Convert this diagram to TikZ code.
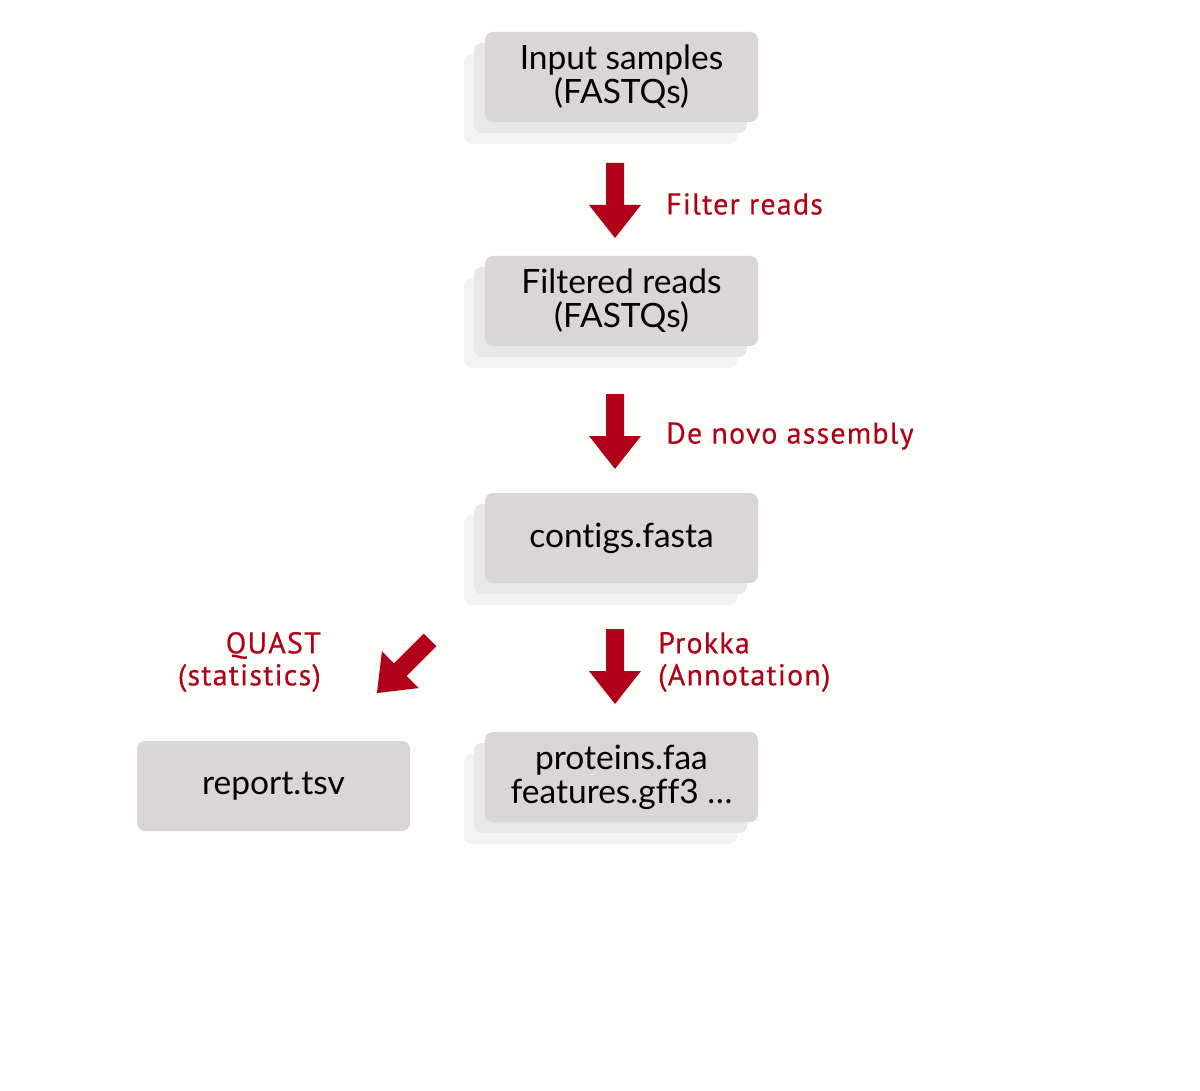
\documentclass[tikz,border=0pt]{standalone}
\usepackage{fontspec}
\setmainfont{Lato}[Ligatures=NoCommon]
\newfontfamily\labelfont{PT Sans}[LetterSpace=4, FakeBold=0.3]
\usetikzlibrary{shadows}
\definecolor{bgcol}{HTML}{FEFEFA}
\definecolor{boxcol}{HTML}{D9D6D4}
\definecolor{shadowone}{HTML}{E9E8E9}
\definecolor{shadowtwo}{HTML}{F4F3F3}
\definecolor{stepred}{HTML}{B0001A}
\tikzset{
  filebox/.style={fill=boxcol, rounded corners=8pt, minimum width=273pt, minimum height=90pt,
    align=center, inner sep=0pt, font=\fontsize{33.5}{34}\selectfont},
  stackbox/.style={filebox,
    copy shadow={shadow xshift=-21pt, shadow yshift=-22pt, fill=shadowtwo, draw=none},
    copy shadow={shadow xshift=-11pt, shadow yshift=-11pt, fill=shadowone, draw=none}},
  steplabel/.style={text=stepred, inner sep=0pt, font=\labelfont\fontsize{30}{32}\selectfont},
  pics/blockarrow/.style={code={
    \fill[stepred] (-9,0) -- (9,0) -- (9,42) -- (26,42) -- (0,75) -- (-26,42) -- (-9,42) -- cycle;}}
}
\begin{document}
\begin{tikzpicture}[x=1pt, y=-1pt]
\useasboundingbox[fill=bgcol] (0,0) rectangle (1200,1091);
% files
\node[stackbox] (input) at (621.5,77) {Input samples\\(FASTQs)};
\node[stackbox] (filtered) at (621.5,301) {Filtered reads\\(FASTQs)};
\node[stackbox] (contigs) at (621.5,538) {contigs.fasta};
\node[stackbox] (annot) at (621.5,777) {proteins.faa\\features.gff3 \dots};
\node[filebox] (report) at (273.5,786) {report.tsv};
% steps
\pic at (615,163) {blockarrow};
\pic at (615,394) {blockarrow};
\pic at (615,629) {blockarrow};
\pic[rotate=-45] at (430,640) {blockarrow};
\node[steplabel, anchor=west] (filter) at (666,204) {Filter reads};
\node[steplabel, anchor=west] (assembly) at (666,436) {De novo assembly};
\node[steplabel, anchor=west, align=left] (prokka) at (658,662) {Prokka\\(Annotation)};
\node[steplabel, anchor=east, align=right] (quast) at (321,662) {QUAST\\(statistics)};
\end{tikzpicture}
\end{document}
